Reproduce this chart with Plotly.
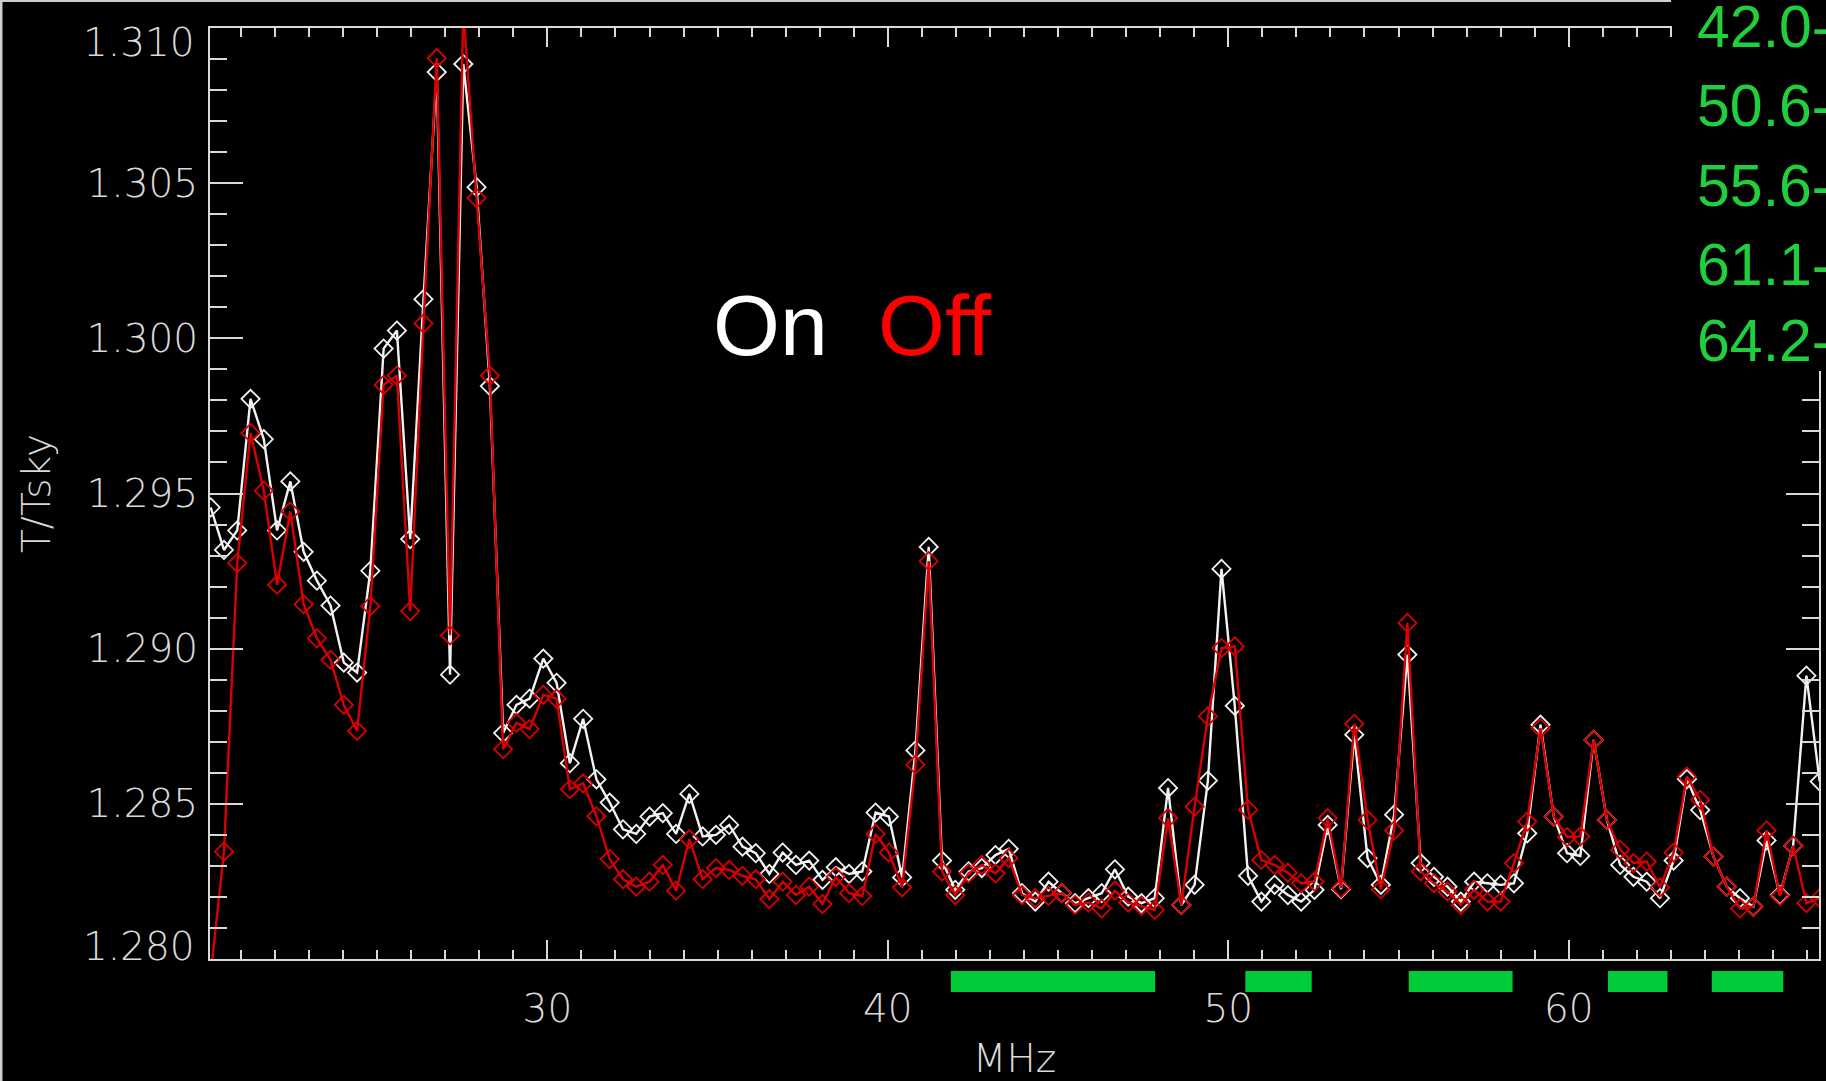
import plotly.graph_objects as go

# ---------------- data ----------------
freq_mhz = [20.11, 20.50, 20.89, 21.28, 21.67, 22.06, 22.45, 22.84, 23.23, 23.63,
            24.02, 24.41, 24.80, 25.19, 25.58, 25.97, 26.36, 26.75, 27.14, 27.53,
            27.92, 28.31, 28.70, 29.09, 29.48, 29.88, 30.27, 30.66, 31.05, 31.44,
            31.83, 32.22, 32.61, 33.00, 33.39, 33.78, 34.17, 34.56, 34.95, 35.34,
            35.73, 36.12, 36.52, 36.91, 37.30, 37.69, 38.08, 38.47, 38.86, 39.25,
            39.64, 40.03, 40.42, 40.81, 41.20, 41.59, 41.98, 42.37, 42.76, 43.16,
            43.55, 43.94, 44.33, 44.72, 45.11, 45.50, 45.89, 46.28, 46.67, 47.06,
            47.45, 47.84, 48.23, 48.62, 49.01, 49.40, 49.80, 50.19, 50.58, 50.97,
            51.36, 51.75, 52.14, 52.53, 52.92, 53.31, 53.70, 54.09, 54.48, 54.87,
            55.26, 55.65, 56.04, 56.44, 56.83, 57.22, 57.61, 58.00, 58.39, 58.78,
            59.17, 59.56, 59.95, 60.34, 60.73, 61.12, 61.51, 61.90, 62.29, 62.68,
            63.08, 63.47, 63.86, 64.25, 64.64, 65.03, 65.42, 65.81, 66.20, 66.59,
            66.98, 67.37]

t_on = [1.29455, 1.29318, 1.29381, 1.29805, 1.29675, 1.29381, 1.29539, 1.29312, 1.29219, 1.29139,
        1.28955, 1.28923, 1.29251, 1.29967, 1.30025, 1.29353, 1.30126, 1.30858, 1.28916, 1.30884,
        1.30487, 1.29846, 1.28728, 1.28819, 1.28839, 1.28968, 1.28890, 1.28631, 1.28774, 1.28579,
        1.28504, 1.28418, 1.28403, 1.28459, 1.28470, 1.28403, 1.28532, 1.28395, 1.28400, 1.28432,
        1.28362, 1.28341, 1.28274, 1.28343, 1.28303, 1.28317, 1.28255, 1.28296, 1.28274, 1.28282,
        1.28472, 1.28459, 1.28263, 1.28672, 1.29328, 1.28317, 1.28223, 1.28282, 1.28293, 1.28335,
        1.28355, 1.28212, 1.28185, 1.28249, 1.28212, 1.28180, 1.28196, 1.28212, 1.28289, 1.28201,
        1.28180, 1.28196, 1.28551, 1.28174, 1.28239, 1.28575, 1.29257, 1.28816, 1.28268, 1.28185,
        1.28239, 1.28206, 1.28185, 1.28223, 1.28432, 1.28225, 1.28723, 1.28325, 1.28239, 1.28465,
        1.28981, 1.28309, 1.28265, 1.28233, 1.28185, 1.28249, 1.28244, 1.28239, 1.28244, 1.28405,
        1.28755, 1.28459, 1.28341, 1.28332, 1.28706, 1.28448, 1.28303, 1.28265, 1.28249, 1.28196,
        1.28317, 1.28580, 1.28480, 1.28330, 1.28233, 1.28196, 1.28169, 1.28382, 1.28206, 1.28365,
        1.28913, 1.28572]

t_off = [1.27950, 1.28346, 1.29276, 1.29695, 1.29509, 1.29206, 1.29442, 1.29143, 1.29033, 1.28964,
         1.28819, 1.28735, 1.29137, 1.29850, 1.29880, 1.29121, 1.30048, 1.30903, 1.29043, 1.31060,
         1.30452, 1.29880, 1.28676, 1.28761, 1.28741, 1.28851, 1.28839, 1.28547, 1.28566, 1.28460,
         1.28322, 1.28257, 1.28233, 1.28249, 1.28303, 1.28220, 1.28386, 1.28257, 1.28293, 1.28287,
         1.28268, 1.28257, 1.28193, 1.28249, 1.28206, 1.28233, 1.28177, 1.28265, 1.28212, 1.28203,
         1.28403, 1.28343, 1.28231, 1.28626, 1.29282, 1.28282, 1.28206, 1.28276, 1.28303, 1.28276,
         1.28325, 1.28206, 1.28196, 1.28203, 1.28212, 1.28174, 1.28182, 1.28163, 1.28220, 1.28182,
         1.28171, 1.28158, 1.28454, 1.28174, 1.28491, 1.28782, 1.29002, 1.29007, 1.28481, 1.28319,
         1.28303, 1.28278, 1.28244, 1.28249, 1.28454, 1.28228, 1.28758, 1.28448, 1.28225, 1.28414,
         1.29083, 1.28282, 1.28244, 1.28217, 1.28174, 1.28223, 1.28185, 1.28185, 1.28309, 1.28443,
         1.28744, 1.28459, 1.28393, 1.28395, 1.28706, 1.28448, 1.28352, 1.28309, 1.28314, 1.28231,
         1.28343, 1.28588, 1.28513, 1.28330, 1.28233, 1.28163, 1.28169, 1.28414, 1.28203, 1.28365,
         1.28180, 1.28196]

# green frequency bands below the axis
band_lo = [41.85, 50.50, 55.30, 61.15, 64.20]
band_hi = [47.85, 52.45, 58.35, 62.90, 66.30]
band_labels = ["42.0-", "50.6-", "55.6-", "61.1-", "64.2-"]

x_ticks = [30, 40, 50, 60]
y_ticks = [1.280, 1.285, 1.290, 1.295, 1.300, 1.305, 1.310]

# ---------------- layout geometry (pixels) ----------------
W, H = 1826, 1081
L, R, T, B = 210, 7, 28, 122
PW, PH = W - L - R, H - T - B


def px_x(px):
    return (px - L) / PW


def px_y(py):
    return (H - B - py) / PH


AXC = "#d9d9d9"
WHITE = "#f2f2f2"
RED = "#d80000"
GREEN_TXT = "#1fd03c"
GREEN_BAR = "#00cc3a"
TICKFONT = dict(family="DejaVu Sans", size=39, color=AXC, weight=200)

fig = go.Figure()

fig.add_trace(go.Scatter(
    x=freq_mhz, y=t_on, mode="lines+markers", name="On",
    line=dict(color=WHITE, width=2.4),
    marker=dict(symbol="diamond-open", size=14, color=WHITE, line=dict(width=1.8, color=WHITE)),
    showlegend=False,
))
fig.add_trace(go.Scatter(
    x=freq_mhz, y=t_off, mode="lines+markers", name="Off",
    line=dict(color=RED, width=2.4),
    marker=dict(symbol="diamond-open", size=14, color=RED, line=dict(width=1.8, color=RED)),
    showlegend=False,
))

shapes = []
for lo, hi in zip(band_lo, band_hi):
    shapes.append(dict(type="rect", xref="x", yref="paper", x0=lo, x1=hi,
                       y0=px_y(992), y1=px_y(971), fillcolor=GREEN_BAR,
                       line=dict(width=0), layer="above"))

# black box behind the green band list (covers the top-right plot corner)
shapes.append(dict(type="rect", xref="paper", yref="paper",
                   x0=px_x(1672), x1=px_x(W + 5), y0=px_y(371), y1=px_y(-5),
                   fillcolor="black", line=dict(width=0), layer="above"))
# thin light frame lines on top and left edge of the picture
shapes.append(dict(type="line", xref="paper", yref="paper",
                   x0=px_x(0), x1=px_x(1671), y0=px_y(1), y1=px_y(1),
                   line=dict(color="#cfcfcf", width=2), layer="above"))
shapes.append(dict(type="line", xref="paper", yref="paper",
                   x0=px_x(1), x1=px_x(1), y0=px_y(0), y1=px_y(H),
                   line=dict(color="#cfcfcf", width=3), layer="above"))

annotations = [
    dict(text="On", xref="paper", yref="paper", x=px_x(711), y=px_y(325),
         xanchor="left", yanchor="middle", showarrow=False,
         font=dict(family="Liberation Sans, Arial", size=86, color="#ffffff")),
    dict(text="Off", xref="paper", yref="paper", x=px_x(876), y=px_y(325),
         xanchor="left", yanchor="middle", showarrow=False,
         font=dict(family="Liberation Sans, Arial", size=86, color="#ff0000")),
]
label_centers = [27, 106, 186, 265, 341]
for txt, cy in zip(band_labels, label_centers):
    annotations.append(dict(text=txt, xref="paper", yref="paper", x=px_x(1695), y=px_y(cy),
                            xanchor="left", yanchor="middle", showarrow=False,
                            font=dict(family="Liberation Sans, Arial", size=59, color=GREEN_TXT)))

# end labels of the y axis are pulled inside the axis span (as in the reference)
y_text = []
for v in y_ticks:
    if v in (y_ticks[0], y_ticks[-1]):
        y_text.append("")
    else:
        y_text.append(f"{v:.3f}")
annotations.append(dict(text=f"{y_ticks[-1]:.3f}", xref="paper", yref="paper",
                        x=px_x(197), y=px_y(43), xanchor="right", yanchor="middle",
                        showarrow=False, font=TICKFONT))
annotations.append(dict(text=f"{y_ticks[0]:.3f}", xref="paper", yref="paper",
                        x=px_x(197), y=px_y(946), xanchor="right", yanchor="middle",
                        showarrow=False, font=TICKFONT))

fig.update_layout(
    width=W, height=H,
    margin=dict(l=L, r=R, t=T, b=B, pad=0),
    paper_bgcolor="black", plot_bgcolor="black",
    shapes=shapes, annotations=annotations,
    xaxis=dict(
        range=[20.09, 67.35], tickvals=x_ticks, ticktext=[str(v) for v in x_ticks],
        automargin=False,
        showline=True, linecolor=AXC, linewidth=2, mirror="ticks",
        ticks="inside", ticklen=19, tickwidth=2, tickcolor=AXC,
        minor=dict(ticks="inside", ticklen=9, dtick=1, tick0=0, tickwidth=2,
                   tickcolor=AXC, showgrid=False),
        showgrid=False, zeroline=False, tickfont=TICKFONT, ticklabelstandoff=14,
        title=dict(text="MHz", font=TICKFONT, standoff=22),
    ),
    yaxis=dict(
        range=[1.280, 1.310], tickvals=y_ticks, ticktext=y_text,
        automargin=False,
        showline=True, linecolor=AXC, linewidth=2, mirror="ticks",
        ticks="inside", ticklen=33, tickwidth=2, tickcolor=AXC,
        minor=dict(ticks="inside", ticklen=17, dtick=0.001, tick0=1.28, tickwidth=2,
                   tickcolor=AXC, showgrid=False),
        showgrid=False, zeroline=False, tickfont=TICKFONT, ticklabelstandoff=2,
        title=dict(text="T/Tsky", font=TICKFONT, standoff=24),
    ),
)

fig.write_html("out.html")
